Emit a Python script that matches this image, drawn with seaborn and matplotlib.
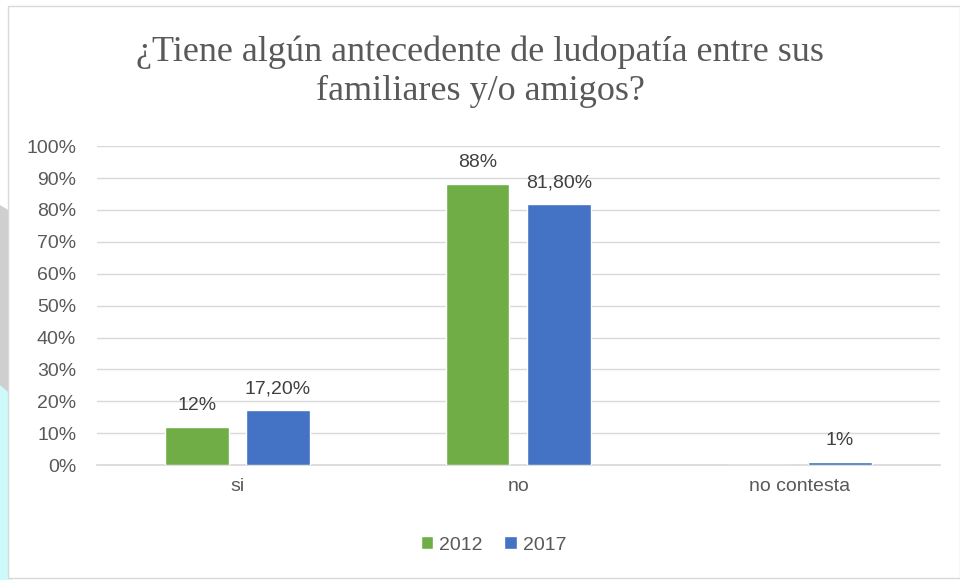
import numpy as np
import pandas as pd
import matplotlib
matplotlib.use("Agg")
import matplotlib.pyplot as plt
import matplotlib.patches as mpatches
import seaborn as sns

# datos
categorias = ["si", "no", "no contesta"]
anios = ["2012", "2017"]
valores_2012 = [12, 88, 0]
valores_2017 = [17.2, 81.8, 1]
etiquetas_2012 = ["12%", "88%", ""]
etiquetas_2017 = ["17,20%", "81,80%", "1%"]
colores = ["#70AD47", "#4472C4"]

df = pd.DataFrame({
    "categoria": categorias * 2,
    "anio": [anios[0]] * 3 + [anios[1]] * 3,
    "valor": valores_2012 + valores_2017,
})

sns.set_theme(style="white")
plt.rcParams["font.family"] = ["Liberation Sans", "DejaVu Sans"]

fig = plt.figure(figsize=(9.6, 5.8), dpi=100)

# fondo decorativo a la izquierda
fig.patches.append(mpatches.Rectangle((0, 0), 0.012, 1 - 385 / 580, transform=fig.transFigure,
                                      facecolor="#CCFAFA", edgecolor="none", zorder=0))
fig.patches.append(mpatches.Polygon([(0, 1 - 205 / 580), (0.012, 1 - 212 / 580),
                                     (0.012, 1 - 395 / 580), (0, 1 - 385 / 580)],
                                    closed=True, transform=fig.transFigure,
                                    facecolor="#CFCFCF", edgecolor="none", zorder=0))
fig.patches.append(mpatches.Rectangle((8 / 960, 0.003), 1 - 8 / 960, 1 - 6 / 580 - 0.003,
                                      transform=fig.transFigure, facecolor="white",
                                      edgecolor="#D9D9D9", linewidth=1, zorder=1))

ax = fig.add_axes([0.101, 0.198, 0.878, 0.55])
ax.set_zorder(2)
ax.patch.set_alpha(0)

sns.barplot(data=df, x="categoria", y="valor", hue="anio", palette=colores,
            width=0.577, gap=0.22, saturation=1, ax=ax, zorder=3)

ax.set_ylim(0, 100)
ax.set_yticks(range(0, 101, 10))
ax.set_yticklabels([f"{v}%" for v in range(0, 101, 10)], fontsize=14, color="#595959")
ax.tick_params(axis="x", labelsize=14, colors="#595959", length=0, pad=9)
ax.tick_params(axis="y", length=0, pad=15)
ax.set_xlabel("")
ax.set_ylabel("")
ax.yaxis.grid(True, color="#D9D9D9", linewidth=1)
ax.set_axisbelow(True)
for s in ["top", "right", "left"]:
    ax.spines[s].set_visible(False)
ax.spines["bottom"].set_color("#D9D9D9")

for cont, etiquetas in zip(ax.containers, [etiquetas_2012, etiquetas_2017]):
    ax.bar_label(cont, labels=etiquetas, padding=9.5, fontsize=14, color="#404040")

ax.get_legend().remove()
handles, labels = ax.get_legend_handles_labels()
fig.legend(handles, labels, loc="center", bbox_to_anchor=(0.514, 1 - 545 / 580), ncol=2,
           frameon=False, fontsize=14, handlelength=0.65, handleheight=0.65,
           handletextpad=0.3, columnspacing=1.1, labelcolor="#595959")

fig.text(0.5, 1 - 72 / 580, "¿Tiene algún antecedente de ludopatía entre sus\nfamiliares y/o amigos?",
         ha="center", va="center", fontsize=26, color="#595959",
         family=["Liberation Serif", "DejaVu Serif"], linespacing=1.22, zorder=3)

fig.savefig("out.png", dpi=100)
